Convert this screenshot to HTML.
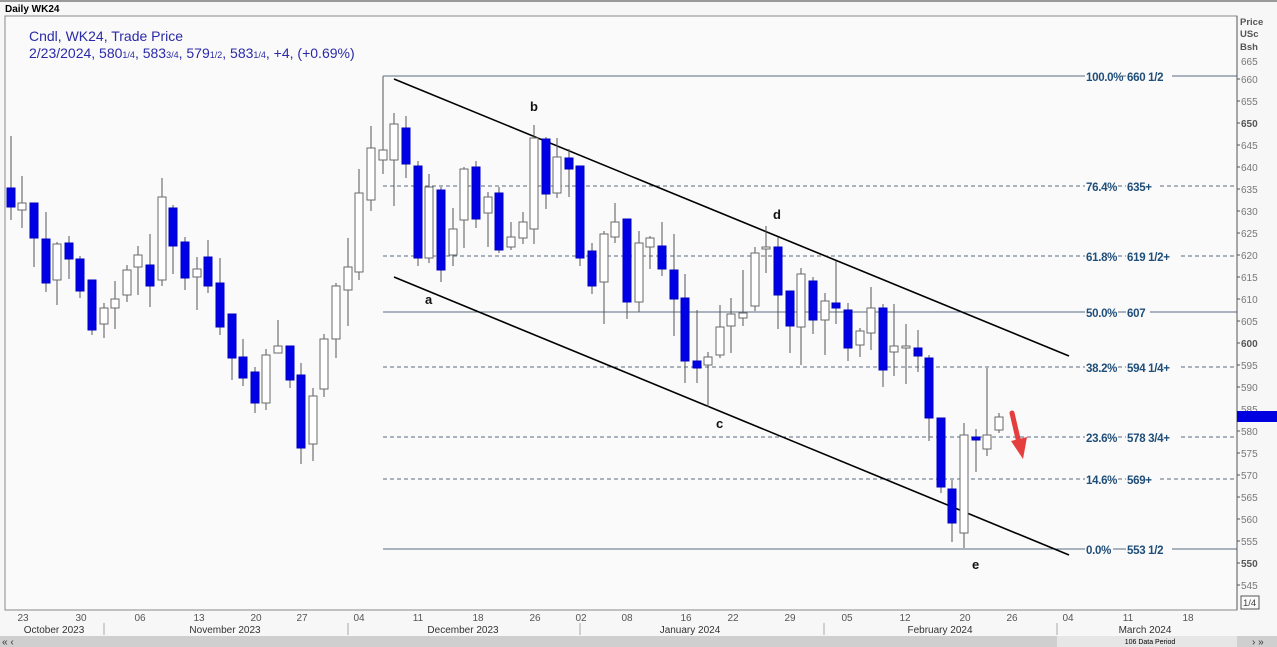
<!DOCTYPE html>
<html><head><meta charset="utf-8"><style>
html,body{margin:0;padding:0;background:#fff;width:1277px;height:647px;overflow:hidden}
svg{display:block;font-family:"Liberation Sans",sans-serif}
</style></head><body>
<svg width="1277" height="647" viewBox="0 0 1277 647" xmlns="http://www.w3.org/2000/svg">
<rect x="0" y="0" width="1277" height="647" fill="#f7f7f7"/>
<rect x="0" y="0" width="1277" height="2" fill="#9a9a9a"/>
<text x="5" y="12" font-size="10" font-weight="bold" fill="#000">Daily WK24</text>
<rect x="5" y="16" width="1232" height="594" fill="#fafafa" stroke="#8a8a8a" stroke-width="1"/>
<text x="29" y="41" font-size="14" fill="#2a2aa8">Cndl, WK24, Trade Price</text>
<text x="29" y="58" font-size="14" fill="#2a2aa8">2/23/2024, 580<tspan font-size="9">1/4</tspan>, 583<tspan font-size="9">3/4</tspan>, 579<tspan font-size="9">1/2</tspan>, 583<tspan font-size="9">1/4</tspan>, +4, (+0.69%)</text>

<g stroke="#5a6b80" stroke-width="1">
<line x1="383" y1="76" x2="1237" y2="76"/>
<line x1="383" y1="76" x2="383" y2="100"/>
<line x1="383" y1="186" x2="1237" y2="186" stroke-dasharray="4,3"/>
<line x1="383" y1="256" x2="1237" y2="256" stroke-dasharray="4,3"/>
<line x1="383" y1="312" x2="1237" y2="312"/>
<line x1="383" y1="367" x2="1237" y2="367" stroke-dasharray="4,3"/>
<line x1="383" y1="437" x2="1237" y2="437" stroke-dasharray="4,3"/>
<line x1="383" y1="479" x2="1237" y2="479" stroke-dasharray="4,3"/>
<line x1="383" y1="549" x2="1237" y2="549"/>
</g>
<g font-size="11.5" fill="#1f4e79" font-weight="bold" letter-spacing="-0.3">
<rect x="1085" y="69" width="36" height="14" fill="#fafafa"/><rect x="1126" y="69" width="46" height="14" fill="#fafafa"/>
<text x="1086" y="81">100.0%</text><text x="1127" y="81">660 1/2</text>
<rect x="1085" y="179" width="33" height="14" fill="#fafafa"/><rect x="1126" y="179" width="31" height="14" fill="#fafafa"/>
<text x="1086" y="191">76.4%</text><text x="1127" y="191">635+</text>
<rect x="1085" y="249" width="33" height="14" fill="#fafafa"/><rect x="1126" y="249" width="53" height="14" fill="#fafafa"/>
<text x="1086" y="261">61.8%</text><text x="1127" y="261">619 1/2+</text>
<rect x="1085" y="305" width="33" height="14" fill="#fafafa"/><rect x="1126" y="305" width="24" height="14" fill="#fafafa"/>
<text x="1086" y="317">50.0%</text><text x="1127" y="317">607</text>
<rect x="1085" y="360" width="33" height="14" fill="#fafafa"/><rect x="1126" y="360" width="53" height="14" fill="#fafafa"/>
<text x="1086" y="372">38.2%</text><text x="1127" y="372">594 1/4+</text>
<rect x="1085" y="430" width="33" height="14" fill="#fafafa"/><rect x="1126" y="430" width="53" height="14" fill="#fafafa"/>
<text x="1086" y="442">23.6%</text><text x="1127" y="442">578 3/4+</text>
<rect x="1085" y="472" width="33" height="14" fill="#fafafa"/><rect x="1126" y="472" width="31" height="14" fill="#fafafa"/>
<text x="1086" y="484">14.6%</text><text x="1127" y="484">569+</text>
<rect x="1085" y="542" width="28" height="14" fill="#fafafa"/><rect x="1126" y="542" width="46" height="14" fill="#fafafa"/>
<text x="1086" y="554">0.0%</text><text x="1127" y="554">553 1/2</text>
</g>

<line x1="394" y1="79" x2="1069" y2="356" stroke="#000" stroke-width="1.6"/>
<line x1="394" y1="277" x2="1069" y2="555" stroke="#000" stroke-width="1.6"/>
<g font-size="13" font-weight="bold" fill="#111">
<text x="530" y="111">b</text><text x="425" y="304">a</text><text x="716" y="428">c</text><text x="773" y="219">d</text><text x="972" y="569">e</text>
</g>

<g stroke-width="1">
<g stroke="#555">
<line x1="11" y1="136" x2="11" y2="220"/><line x1="22" y1="176" x2="22" y2="228"/><line x1="34" y1="203" x2="34" y2="267"/><line x1="46" y1="212" x2="46" y2="292"/><line x1="57" y1="242" x2="57" y2="305"/><line x1="69" y1="236" x2="69" y2="279"/><line x1="80" y1="256" x2="80" y2="298"/><line x1="92" y1="280" x2="92" y2="335"/><line x1="104" y1="303" x2="104" y2="338"/><line x1="115" y1="281" x2="115" y2="329"/><line x1="127" y1="265" x2="127" y2="302"/><line x1="138" y1="246" x2="138" y2="295"/><line x1="150" y1="234" x2="150" y2="307"/><line x1="162" y1="178" x2="162" y2="286"/><line x1="173" y1="205" x2="173" y2="274"/><line x1="185" y1="237" x2="185" y2="290"/><line x1="197" y1="257" x2="197" y2="310"/><line x1="208" y1="240" x2="208" y2="293"/><line x1="220" y1="258" x2="220" y2="335"/><line x1="232" y1="314" x2="232" y2="380"/><line x1="243" y1="339" x2="243" y2="386"/><line x1="255" y1="367" x2="255" y2="413"/><line x1="266" y1="349" x2="266" y2="410"/><line x1="278" y1="320" x2="278" y2="353"/><line x1="290" y1="346" x2="290" y2="388"/><line x1="301" y1="363" x2="301" y2="464"/><line x1="313" y1="388" x2="313" y2="461"/><line x1="324" y1="334" x2="324" y2="397"/><line x1="336" y1="283" x2="336" y2="358"/><line x1="348" y1="238" x2="348" y2="326"/><line x1="359" y1="169" x2="359" y2="280"/><line x1="371" y1="126" x2="371" y2="211"/><line x1="383" y1="77" x2="383" y2="174"/><line x1="394" y1="113" x2="394" y2="206"/><line x1="406" y1="116" x2="406" y2="178"/><line x1="418" y1="161" x2="418" y2="266"/><line x1="429" y1="174" x2="429" y2="263"/><line x1="441" y1="187" x2="441" y2="282"/><line x1="453" y1="208" x2="453" y2="266"/><line x1="464" y1="167" x2="464" y2="248"/><line x1="476" y1="161" x2="476" y2="228"/><line x1="488" y1="192" x2="488" y2="247"/><line x1="499" y1="187" x2="499" y2="253"/><line x1="511" y1="222" x2="511" y2="250"/><line x1="523" y1="212" x2="523" y2="244"/><line x1="534" y1="125" x2="534" y2="244"/><line x1="546" y1="137" x2="546" y2="209"/><line x1="557" y1="138" x2="557" y2="198"/><line x1="569" y1="149" x2="569" y2="197"/><line x1="580" y1="166" x2="580" y2="266"/><line x1="592" y1="243" x2="592" y2="294"/><line x1="604" y1="231" x2="604" y2="324"/><line x1="615" y1="203" x2="615" y2="243"/><line x1="627" y1="219" x2="627" y2="319"/><line x1="639" y1="231" x2="639" y2="312"/><line x1="650" y1="236" x2="650" y2="269"/><line x1="662" y1="222" x2="662" y2="276"/><line x1="674" y1="234" x2="674" y2="336"/><line x1="685" y1="274" x2="685" y2="383"/><line x1="697" y1="310" x2="697" y2="383"/><line x1="708" y1="352" x2="708" y2="407"/><line x1="720" y1="305" x2="720" y2="358"/><line x1="731" y1="298" x2="731" y2="353"/><line x1="743" y1="270" x2="743" y2="326"/><line x1="755" y1="247" x2="755" y2="311"/><line x1="766" y1="226" x2="766" y2="273"/><line x1="778" y1="237" x2="778" y2="329"/><line x1="790" y1="291" x2="790" y2="353"/><line x1="801" y1="268" x2="801" y2="365"/><line x1="813" y1="277" x2="813" y2="334"/><line x1="825" y1="293" x2="825" y2="355"/><line x1="836" y1="261" x2="836" y2="324"/><line x1="848" y1="303" x2="848" y2="361"/><line x1="860" y1="328" x2="860" y2="357"/><line x1="871" y1="287" x2="871" y2="350"/><line x1="883" y1="304" x2="883" y2="387"/><line x1="894" y1="304" x2="894" y2="376"/><line x1="906" y1="324" x2="906" y2="384"/><line x1="918" y1="330" x2="918" y2="372"/><line x1="929" y1="355" x2="929" y2="441"/><line x1="941" y1="418" x2="941" y2="493"/><line x1="952" y1="480" x2="952" y2="542"/><line x1="964" y1="423" x2="964" y2="548"/><line x1="976" y1="429" x2="976" y2="472"/><line x1="987" y1="368" x2="987" y2="456"/><line x1="999" y1="413" x2="999" y2="433"/>
</g>
<g fill="#0000e6" stroke="#0000c0">
<rect x="7" y="188" width="8" height="19"/><rect x="30" y="203" width="8" height="35"/><rect x="42" y="239" width="8" height="44"/><rect x="65" y="243" width="8" height="16"/><rect x="76" y="259" width="8" height="32"/><rect x="88" y="280" width="8" height="50"/><rect x="146" y="265" width="8" height="21"/><rect x="169" y="208" width="8" height="38"/><rect x="181" y="242" width="8" height="36"/><rect x="204" y="257" width="8" height="29"/><rect x="216" y="283" width="8" height="44"/><rect x="228" y="314" width="8" height="44"/><rect x="239" y="357" width="8" height="21"/><rect x="251" y="372" width="8" height="31"/><rect x="286" y="346" width="8" height="34"/><rect x="297" y="375" width="8" height="73"/>
<rect x="402" y="128" width="8" height="36"/><rect x="414" y="166" width="8" height="92"/><rect x="437" y="190" width="8" height="80"/><rect x="472" y="167" width="8" height="52"/><rect x="495" y="193" width="8" height="57"/><rect x="542" y="139" width="8" height="55"/><rect x="565" y="158" width="8" height="11"/><rect x="576" y="166" width="8" height="92"/><rect x="588" y="251" width="8" height="35"/><rect x="623" y="219" width="8" height="83"/><rect x="658" y="246" width="8" height="23"/><rect x="670" y="270" width="8" height="29"/><rect x="681" y="298" width="8" height="63"/><rect x="693" y="361" width="8" height="7"/>
<rect x="774" y="247" width="8" height="48"/><rect x="786" y="291" width="8" height="35"/><rect x="809" y="281" width="8" height="39"/><rect x="832" y="303" width="8" height="5"/><rect x="844" y="310" width="8" height="38"/><rect x="879" y="308" width="8" height="62"/><rect x="914" y="348" width="8" height="8"/><rect x="925" y="358" width="8" height="60"/><rect x="937" y="418" width="8" height="69"/><rect x="948" y="489" width="8" height="34"/><rect x="972" y="437" width="8" height="3"/>
</g>
<g fill="#fff" stroke="#6a6a6a">
<rect x="18" y="203" width="8" height="7"/><rect x="53" y="244" width="8" height="36"/><rect x="100" y="308" width="8" height="16"/><rect x="111" y="299" width="8" height="9"/><rect x="123" y="270" width="8" height="25"/><rect x="134" y="255" width="8" height="12"/><rect x="158" y="197" width="8" height="83"/><rect x="193" y="269" width="8" height="8"/><rect x="262" y="355" width="8" height="48"/><rect x="274" y="346" width="8" height="7"/><rect x="309" y="396" width="8" height="48"/><rect x="320" y="339" width="8" height="50"/><rect x="332" y="286" width="8" height="53"/><rect x="344" y="267" width="8" height="23"/><rect x="355" y="193" width="8" height="79"/><rect x="367" y="148" width="8" height="52"/>
<rect x="379" y="150" width="8" height="10"/><rect x="390" y="124" width="8" height="36"/><rect x="425" y="187" width="8" height="71"/><rect x="449" y="229" width="8" height="26"/><rect x="460" y="169" width="8" height="51"/><rect x="484" y="197" width="8" height="16"/><rect x="507" y="237" width="8" height="10"/><rect x="519" y="222" width="8" height="16"/><rect x="530" y="138" width="8" height="91"/><rect x="553" y="157" width="8" height="36"/><rect x="600" y="234" width="8" height="48"/><rect x="611" y="222" width="8" height="15"/><rect x="635" y="243" width="8" height="59"/><rect x="646" y="238" width="8" height="9"/><rect x="704" y="357" width="8" height="8"/><rect x="716" y="327" width="8" height="28"/>
<rect x="727" y="314" width="8" height="12"/><rect x="739" y="313" width="8" height="5"/><rect x="751" y="253" width="8" height="53"/><rect x="762" y="247" width="8" height="2"/><rect x="797" y="274" width="8" height="53"/><rect x="821" y="301" width="8" height="19"/><rect x="856" y="331" width="8" height="14"/><rect x="867" y="308" width="8" height="25"/><rect x="890" y="346" width="8" height="6"/><rect x="902" y="346" width="8" height="2"/><rect x="960" y="435" width="8" height="98"/><rect x="983" y="435" width="8" height="14"/><rect x="995" y="417" width="8" height="13"/>
</g>
</g>

<line x1="1012" y1="413" x2="1019" y2="443" stroke="#e53e3e" stroke-width="5" stroke-linecap="round"/>
<polygon points="1011,441 1027,437 1023,459" fill="#e53e3e"/>

<line x1="1237" y1="16" x2="1237" y2="610" stroke="#555" stroke-width="1"/>
<g font-size="9.5" font-weight="bold" fill="#555"><text x="1240" y="25">Price</text><text x="1240" y="37">USc</text><text x="1240" y="50">Bsh</text></g>
<g font-size="10" fill="#777">
<text x="1241" y="65">665</text><text x="1241" y="83">660</text><text x="1241" y="105">655</text><text x="1241" y="127" font-weight="bold" fill="#555">650</text><text x="1241" y="149">645</text><text x="1241" y="171">640</text><text x="1241" y="193">635</text><text x="1241" y="215">630</text><text x="1241" y="237">625</text><text x="1241" y="259">620</text><text x="1241" y="281">615</text><text x="1241" y="303">610</text><text x="1241" y="325">605</text><text x="1241" y="347" font-weight="bold" fill="#555">600</text><text x="1241" y="369">595</text><text x="1241" y="391">590</text><text x="1241" y="413">585</text><text x="1241" y="435">580</text><text x="1241" y="457">575</text><text x="1241" y="479">570</text><text x="1241" y="501">565</text><text x="1241" y="523">560</text><text x="1241" y="545">555</text><text x="1241" y="567" font-weight="bold" fill="#555">550</text><text x="1241" y="589">545</text>
</g>
<g stroke="#555"><line x1="1237" y1="79" x2="1240" y2="79"/><line x1="1237" y1="101" x2="1240" y2="101"/><line x1="1237" y1="123" x2="1240" y2="123"/><line x1="1237" y1="145" x2="1240" y2="145"/><line x1="1237" y1="167" x2="1240" y2="167"/><line x1="1237" y1="189" x2="1240" y2="189"/><line x1="1237" y1="211" x2="1240" y2="211"/><line x1="1237" y1="233" x2="1240" y2="233"/><line x1="1237" y1="255" x2="1240" y2="255"/><line x1="1237" y1="277" x2="1240" y2="277"/><line x1="1237" y1="299" x2="1240" y2="299"/><line x1="1237" y1="321" x2="1240" y2="321"/><line x1="1237" y1="343" x2="1240" y2="343"/><line x1="1237" y1="365" x2="1240" y2="365"/><line x1="1237" y1="387" x2="1240" y2="387"/><line x1="1237" y1="431" x2="1240" y2="431"/><line x1="1237" y1="453" x2="1240" y2="453"/><line x1="1237" y1="475" x2="1240" y2="475"/><line x1="1237" y1="497" x2="1240" y2="497"/><line x1="1237" y1="519" x2="1240" y2="519"/><line x1="1237" y1="541" x2="1240" y2="541"/><line x1="1237" y1="563" x2="1240" y2="563"/><line x1="1237" y1="585" x2="1240" y2="585"/></g>
<rect x="1237" y="411" width="40" height="11" fill="#0000e0"/>
<rect x="1241" y="596" width="18" height="13" fill="#fafafa" stroke="#555"/>
<text x="1243" y="606" font-size="9.5" fill="#444">1/4</text>

<line x1="5" y1="610" x2="1237" y2="610" stroke="#888"/>
<g font-size="10" fill="#555" text-anchor="middle">
<text x="23" y="621">23</text><text x="81" y="621">30</text><text x="140" y="621">06</text><text x="199" y="621">13</text><text x="256" y="621">20</text><text x="302" y="621">27</text><text x="359" y="621">04</text><text x="418" y="621">11</text><text x="478" y="621">18</text><text x="535" y="621">26</text><text x="581" y="621">02</text><text x="627" y="621">08</text><text x="686" y="621">16</text><text x="733" y="621">22</text><text x="790" y="621">29</text><text x="847" y="621">05</text><text x="905" y="621">12</text><text x="965" y="621">20</text><text x="1012" y="621">26</text><text x="1068" y="621">04</text><text x="1128" y="621">11</text><text x="1188" y="621">18</text>
</g>
<g font-size="10" fill="#333" text-anchor="middle">
<text x="54" y="633">October 2023</text><text x="225" y="633">November 2023</text><text x="463" y="633">December 2023</text><text x="690" y="633">January 2024</text><text x="940" y="633">February 2024</text><text x="1145" y="633">March 2024</text>
</g>
<g stroke="#aaa"><line x1="104" y1="623" x2="104" y2="635"/><line x1="348" y1="623" x2="348" y2="635"/><line x1="580" y1="623" x2="580" y2="635"/><line x1="824" y1="623" x2="824" y2="635"/><line x1="1057" y1="623" x2="1057" y2="635"/></g>
<rect x="0" y="636" width="1277" height="11" fill="#cfcfcf"/>
<rect x="1057" y="636" width="180" height="11" fill="#e6e6e6"/>
<text x="1150" y="644" font-size="7" fill="#000" text-anchor="middle">106 Data Period</text>
<text x="2" y="645" font-size="10" fill="#333">« ‹</text>
<text x="1252" y="645" font-size="10" fill="#333">› »</text>
</svg>
</body></html>
